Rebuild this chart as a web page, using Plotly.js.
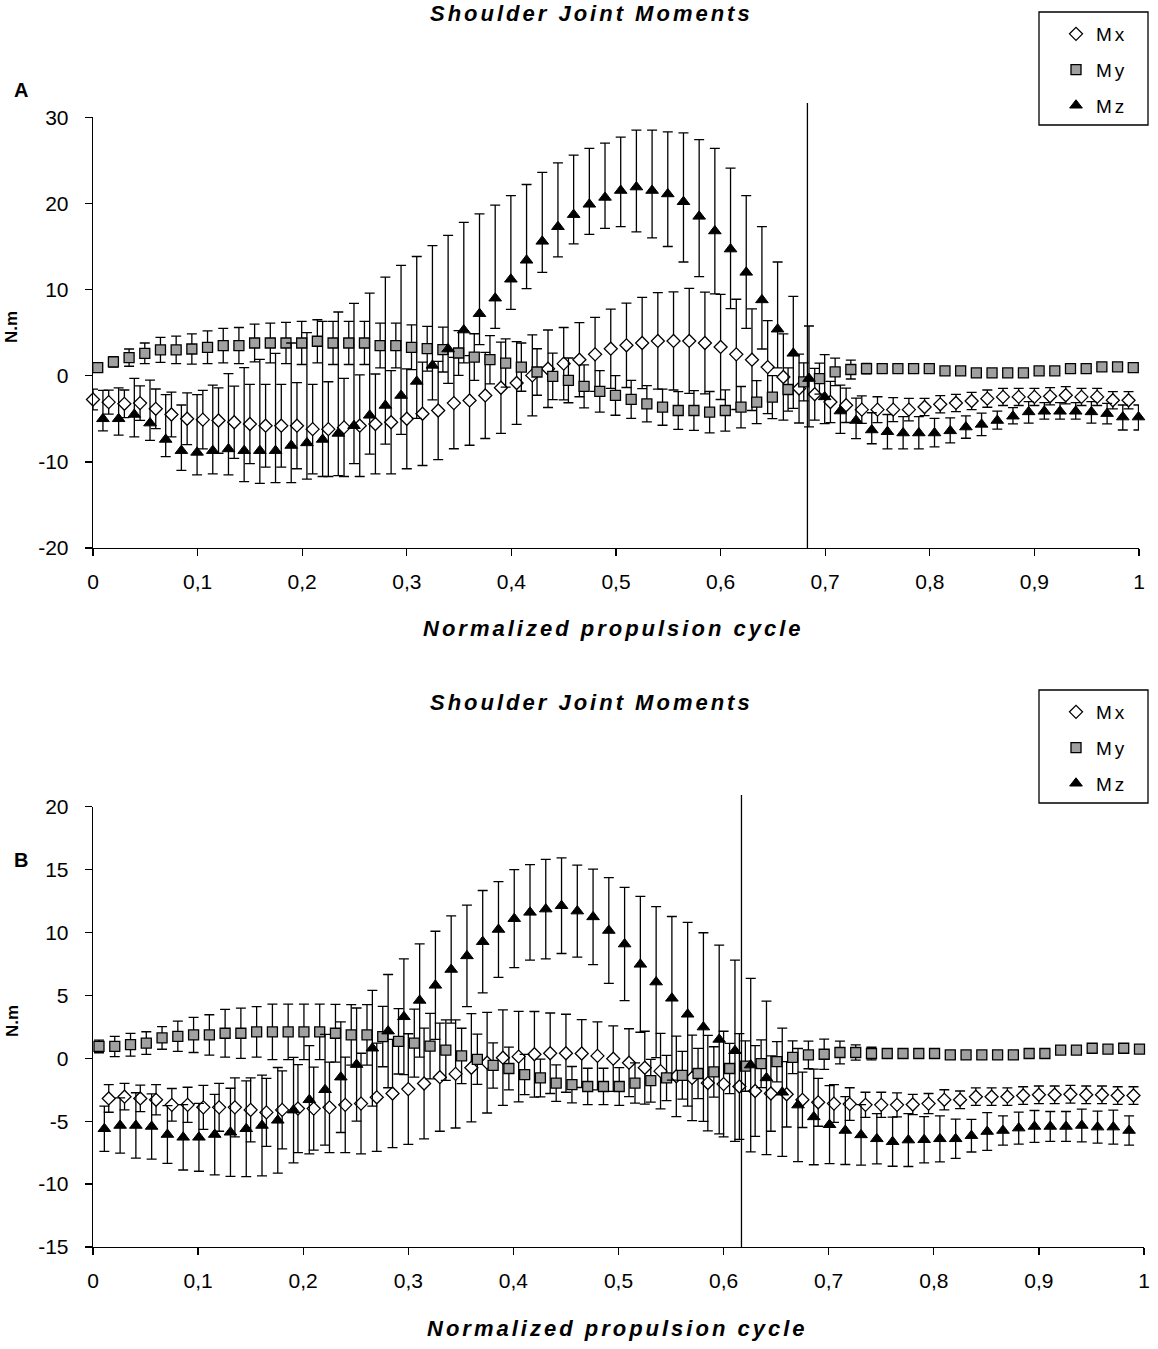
<!DOCTYPE html>
<html>
<head>
<meta charset="utf-8">
<script src="https://cdn.plot.ly/plotly-3.0.1.min.js"></script>
<style>
html,body{margin:0;padding:0;background:#fff;}
#chart{width:1158px;height:1349px;}
</style>
</head>
<body>
<div id="chart"></div>
<script>
// ---------- data ----------
const xTickVals = [0,0.1,0.2,0.3,0.4,0.5,0.6,0.7,0.8,0.9,1];
const xTickText = ['0','0,1','0,2','0,3','0,4','0,5','0,6','0,7','0,8','0,9','1'];
const yTickValsA = [-20,-10,0,10,20,30];
const yTickTextA = ['-20','-10','0','10','20','30'];
const yTickValsB = [-15,-10,-5,0,5,10,15,20];
const yTickTextB = ['-15','-10','-5','0','5','10','15','20'];
const seriesNames = ['Mx','My','Mz'];
const phaseLine = [0.683, 0.617];   // end of propulsion phase, panel A and B

// sampling of the normalized cycle (step 0.015)
const cycleStep = 0.015;

// Panel A
const A_Mx = [-2.76,-3.07,-3.26,-3.18,-3.84,-4.5,-5.0,-5.1,-5.2,-5.4,
  -5.6,-5.8,-5.8,-5.8,-6.2,-6.2,-6.0,-5.8,-5.6,-5.4,
  -5.0,-4.42,-4.04,-3.18,-2.87,-2.29,-1.4,-0.85,0.04,0.81,
  1.4,1.86,2.48,3.14,3.53,3.8,4.04,4.04,4.04,3.8,
  3.34,2.48,1.86,1.0,-0.15,-1.49,-2.15,-3.05,-3.43,-3.94,
  -3.94,-3.94,-3.94,-3.63,-3.32,-3.16,-2.93,-2.66,-2.46,-2.46,
  -2.46,-2.39,-2.27,-2.46,-2.46,-2.85,-2.85];
const A_MxErr = [1.2,1.4,1.6,2.0,2.3,2.6,3.0,3.4,3.8,4.2,
  4.6,4.8,4.8,5.0,5.2,5.5,5.7,5.9,5.8,6.0,
  5.8,6.0,5.7,5.3,5.2,5.0,5.3,4.8,4.7,4.5,
  4.2,4.3,4.3,4.6,4.9,5.3,5.6,5.7,6.1,5.9,
  6.1,6.4,5.9,5.4,5.0,4.0,3.0,2.4,2.0,1.6,
  1.5,1.4,1.3,1.0,1.0,1.0,1.0,1.0,1.0,1.0,
  1.0,1.0,1.0,1.0,1.0,1.0,1.0];
const A_My = [0.93,1.6,2.1,2.6,3.0,3.0,3.1,3.3,3.5,3.5,
  3.8,3.8,3.8,3.8,4.0,3.8,3.8,3.8,3.5,3.5,
  3.3,3.14,3.03,2.64,2.17,1.86,1.47,1.0,0.43,-0.08,
  -0.54,-1.24,-1.82,-2.29,-2.75,-3.26,-3.65,-4.04,-4.04,-4.23,
  -4.04,-3.65,-3.07,-2.48,-1.6,-0.72,-0.33,0.45,0.72,0.83,
  0.83,0.83,0.83,0.83,0.56,0.56,0.33,0.33,0.33,0.33,
  0.56,0.56,0.83,0.83,1.03,1.03,0.95];
const A_MyErr = [0.3,0.6,1.0,1.2,1.45,1.6,1.75,1.9,2.0,2.1,
  2.2,2.3,2.4,2.5,2.5,2.5,2.5,2.5,2.6,2.6,
  2.6,2.6,2.6,2.6,2.7,2.8,2.8,2.8,2.7,2.7,
  2.6,2.5,2.4,2.3,2.2,2.1,2.1,2.2,2.3,2.4,
  2.4,2.4,2.5,2.5,2.5,2.2,1.8,1.6,1.1,0.6,
  0.3,0.3,0.3,0.3,0.3,0.3,0.3,0.3,0.3,0.3,
  0.3,0.3,0.3,0.3,0.3,0.3,0.3];
const A_Mz = [-5.0,-5.0,-4.5,-5.5,-7.4,-8.7,-8.9,-8.7,-8.5,-8.7,
  -8.7,-8.7,-8.1,-7.8,-7.4,-6.7,-5.8,-4.6,-3.45,-2.3,
  -0.66,1.2,3.1,5.3,7.2,9.0,11.2,13.4,15.6,17.3,
  18.7,19.9,20.7,21.5,21.9,21.5,21.1,20.2,18.5,16.8,
  14.7,12.0,8.8,5.4,2.6,-0.33,-2.46,-4.1,-5.2,-6.3,
  -6.5,-6.65,-6.65,-6.65,-6.4,-5.96,-5.65,-5.2,-4.7,-4.2,
  -4.13,-4.13,-4.13,-4.2,-4.4,-4.8,-4.8];
const A_MzErrUp = [3.3,3.6,4.2,5.0,5.2,5.3,6.7,7.6,8.75,9.65,
  10.6,11.3,11.9,12.8,13.7,14.1,14.2,14.2,14.9,15.1,
  14.5,13.9,13.2,12.5,11.6,10.8,9.7,8.8,8.0,7.4,
  6.9,6.5,6.3,6.2,6.6,7.0,7.2,8.0,8.9,9.6,
  9.4,8.9,8.5,7.8,6.6,6.1,4.9,3.0,2.6,2.0,
  2.0,1.9,1.9,1.7,1.5,1.3,1.3,1.1,1.0,1.2,
  1.0,1.0,1.0,1.2,1.2,1.4,1.4];
const A_MzErrDown = [1.4,1.9,2.6,2.0,2.0,2.3,2.6,2.7,3.0,3.6,
  3.8,3.7,4.3,4.2,4.3,4.9,4.4,4.5,4.5,4.5,
  4.3,4.0,4.0,3.8,3.6,3.5,3.5,3.3,3.6,3.5,
  3.4,3.5,3.6,4.2,5.2,5.5,6.1,7.0,7.0,7.3,
  6.9,6.5,5.7,4.5,6.4,5.6,3.1,2.6,2.1,1.6,
  2.0,1.85,1.85,1.6,1.4,1.3,1.3,1.0,0.9,1.3,
  0.9,0.9,0.9,1.3,1.2,1.5,1.5];

// Panel B (Mx starts at the second sample)
const B_Mx = [-3.19,-3.05,-3.19,-3.3,-3.7,-3.7,-3.9,-3.9,-3.9,-4.1,
  -4.3,-4.1,-4.0,-4.0,-3.9,-3.7,-3.6,-3.1,-2.8,-2.45,
  -2.0,-1.5,-1.24,-0.75,-0.35,0.05,0.13,0.32,0.4,0.4,
  0.38,0.19,-0.03,-0.35,-0.75,-1.02,-1.43,-1.56,-1.97,-2.05,
  -2.24,-2.6,-2.8,-2.86,-3.3,-3.5,-3.6,-3.64,-3.7,-3.7,
  -3.7,-3.67,-3.6,-3.3,-3.3,-3.05,-3.05,-3.05,-2.96,-2.9,
  -2.9,-2.86,-2.9,-2.9,-2.96,-2.96];
const B_MxErr = [1.1,1.05,1.05,1.2,1.3,1.4,1.75,1.9,2.35,2.55,
  2.7,3.1,3.5,3.3,3.6,3.8,4.0,4.3,4.3,4.4,
  4.4,4.3,4.3,4.3,4.0,3.8,3.6,3.4,3.2,3.1,
  2.7,2.7,2.6,2.7,2.9,3.0,3.2,3.4,3.8,4.2,
  4.2,3.6,3.0,2.6,2.2,1.9,1.5,1.3,1.0,1.0,
  0.95,0.8,0.8,0.8,0.7,0.7,0.7,0.7,0.7,0.7,
  0.7,0.7,0.7,0.7,0.7,0.7];
const B_My = [0.94,0.94,1.08,1.21,1.62,1.75,1.86,1.86,1.99,1.99,
  2.1,2.1,2.1,2.1,2.1,1.99,1.86,1.86,1.73,1.35,
  1.21,0.97,0.65,0.19,-0.08,-0.57,-0.81,-1.29,-1.56,-1.97,
  -2.1,-2.24,-2.24,-2.24,-1.97,-1.78,-1.56,-1.35,-1.21,-1.08,
  -0.81,-0.62,-0.43,-0.27,0.08,0.27,0.32,0.46,0.46,0.38,
  0.38,0.38,0.38,0.38,0.27,0.27,0.27,0.27,0.27,0.38,
  0.38,0.65,0.65,0.8,0.73,0.8,0.73];
const B_MyErr = [0.5,0.8,0.9,0.9,0.9,1.2,1.4,1.6,1.9,2.0,
  2.0,2.2,2.2,2.2,2.2,2.3,2.4,2.4,2.4,2.6,
  2.7,2.6,2.4,2.2,2.0,1.8,1.7,1.6,1.5,1.45,
  1.45,1.45,1.45,1.5,1.6,1.7,1.8,1.9,2.0,2.0,
  2.0,2.0,1.9,1.6,1.3,1.1,1.2,0.9,0.6,0.5,
  0.3,0.3,0.3,0.3,0.3,0.3,0.3,0.3,0.3,0.3,
  0.3,0.3,0.3,0.3,0.3,0.3,0.3];
const B_Mz = [-5.6,-5.34,-5.34,-5.42,-6.06,-6.28,-6.28,-6.06,-5.88,-5.6,
  -5.34,-4.93,-4.12,-3.3,-2.5,-1.5,-0.5,0.8,2.16,3.3,
  4.6,5.8,7.06,8.14,9.27,10.24,11.1,11.6,11.86,12.13,
  11.7,11.24,10.16,9.08,7.47,6.06,4.77,3.5,2.48,1.5,
  0.6,-0.54,-1.56,-2.7,-3.72,-4.66,-5.28,-5.74,-6.09,-6.4,
  -6.63,-6.5,-6.47,-6.4,-6.4,-6.15,-5.82,-5.74,-5.55,-5.42,
  -5.42,-5.42,-5.34,-5.47,-5.47,-5.74];
const B_MzErr = [1.8,2.2,2.6,2.6,2.3,2.6,2.7,3.2,3.5,3.8,
  4.0,4.2,4.2,4.3,4.4,4.4,4.5,4.6,4.5,4.6,
  4.5,4.3,4.26,4.04,4.07,3.8,3.9,3.8,3.96,3.8,
  3.66,3.8,4.2,4.5,5.4,6.0,6.5,7.3,7.5,7.5,
  7.2,6.9,6.1,5.1,4.5,3.8,3.1,2.7,2.4,2.0,
  1.95,2.1,1.84,1.83,1.56,1.3,1.5,1.16,1.27,1.27,
  1.19,1.19,1.3,1.27,1.35,1.16];

// ---------- helpers ----------
const W = 1158, H = 1349;
const px = v => v / W;
const py = v => 1 - v / H;
const FONT = 'Liberation Sans, Arial, sans-serif';

function cycle(n, firstIndex, shift) {
  return Array.from({length: n}, (_, k) => +((k + firstIndex) * cycleStep + shift).toFixed(4));
}

const markers = {
  Mx: {symbol: 'diamond', size: 10, color: '#ffffff', line: {color: '#000', width: 1.3}},
  My: {symbol: 'square', size: 10, color: '#a0a0a0', line: {color: '#000', width: 1.3}},
  Mz: {symbol: 'triangle-up', size: 11, color: '#000000', line: {color: '#000', width: 1}}
};

const spaced = t => '<span style="letter-spacing:3px">' + t + '</span>';

function trace(name, xs, ys, up, down, xa, ya, leg) {
  return {
    type: 'scatter', mode: 'markers', name: spaced(name),
    x: xs, y: ys, xaxis: xa, yaxis: ya,
    legend: leg, legendgroup: leg + name,
    marker: markers[name], cliponaxis: false,
    error_y: {type: 'data', symmetric: false, array: up, arrayminus: down,
              color: '#000', thickness: 1.3, width: 5},
    hoverinfo: 'x+y'
  };
}

const data = [
  trace(seriesNames[0], cycle(A_Mx.length, 0, 0), A_Mx, A_MxErr, A_MxErr, 'x', 'y', 'legend'),
  trace(seriesNames[1], cycle(A_My.length, 0, 0.0045), A_My, A_MyErr, A_MyErr, 'x', 'y', 'legend'),
  trace(seriesNames[2], cycle(A_Mz.length, 0, 0.0095), A_Mz, A_MzErrUp, A_MzErrDown, 'x', 'y', 'legend'),
  trace(seriesNames[0], cycle(B_Mx.length, 1, 0), B_Mx, B_MxErr, B_MxErr, 'x2', 'y2', 'legend2'),
  trace(seriesNames[1], cycle(B_My.length, 0, 0.0057), B_My, B_MyErr, B_MyErr, 'x2', 'y2', 'legend2'),
  trace(seriesNames[2], cycle(B_Mz.length, 0, 0.0108), B_Mz, B_MzErr, B_MzErr, 'x2', 'y2', 'legend2')
];

function xAxis(domain, anchor) {
  return {
    domain: domain, anchor: anchor, range: [0, 1],
    tickmode: 'array', tickvals: xTickVals, ticktext: xTickText,
    ticks: 'outside', ticklen: 7, tickwidth: 1.3, tickcolor: '#000',
    showline: true, linecolor: '#000', linewidth: 1.3,
    showgrid: false, zeroline: false,
    tickfont: {family: FONT, size: 21, color: '#000'},
    ticklabelstandoff: 7
  };
}
function yAxis(domain, anchor, range, vals, text) {
  return {
    domain: domain, anchor: anchor, range: range,
    tickmode: 'array', tickvals: vals, ticktext: text,
    ticks: 'outside', ticklen: 7, tickwidth: 1.3, tickcolor: '#000',
    showline: true, linecolor: '#000', linewidth: 1.3,
    showgrid: false, zeroline: false,
    tickfont: {family: FONT, size: 21, color: '#000'},
    ticklabelstandoff: 12
  };
}

function label(text, x, y, size, opts) {
  return Object.assign({
    xref: 'paper', yref: 'paper', x: px(x), y: py(y),
    xanchor: 'center', yanchor: 'middle', showarrow: false,
    text: text,
    font: {family: FONT, size: size, color: '#000', weight: 'bold'}
  }, opts || {});
}

const title = 'Shoulder Joint Moments';
const xTitle = 'Normalized propulsion cycle';
const yTitle = 'N.m';
const bi = {family: FONT, size: 22, color: '#000', weight: 'bold', style: 'italic'};

const annotations = [
  label(spaced(title), 591, 13, 22, {font: bi}),
  label(spaced(title), 591, 702, 22, {font: bi}),
  label('A', 21, 90, 20),
  label('B', 21, 860, 20),
  label(spaced(xTitle), 613, 628, 22, {font: bi}),
  label(spaced(xTitle), 617, 1328, 22, {font: bi}),
  label(yTitle, 12, 327, 17, {textangle: -90}),
  label(yTitle, 12, 1021, 17, {textangle: -90})
];

const shapes = [
  {type: 'rect', xref: 'paper', yref: 'paper', x0: px(1039), x1: px(1148), y0: py(125), y1: py(12),
   line: {color: '#000', width: 1.3}, fillcolor: 'rgba(0,0,0,0)'},
  {type: 'rect', xref: 'paper', yref: 'paper', x0: px(1039), x1: px(1148), y0: py(803), y1: py(690),
   line: {color: '#000', width: 1.3}, fillcolor: 'rgba(0,0,0,0)'},
  {type: 'line', xref: 'x', yref: 'paper', x0: phaseLine[0], x1: phaseLine[0], y0: py(548), y1: py(103),
   line: {color: '#000', width: 1.3}},
  {type: 'line', xref: 'x2', yref: 'paper', x0: phaseLine[1], x1: phaseLine[1], y0: py(1247), y1: py(795),
   line: {color: '#000', width: 1.3}}
];

function legendAt(y) {
  return {
    x: px(1056), xanchor: 'left', y: py(y), yanchor: 'top',
    bgcolor: 'rgba(0,0,0,0)', borderwidth: 0,
    font: {family: FONT, size: 19, color: '#000'},
    tracegroupgap: 8, traceorder: 'grouped'
  };
}

const layout = {
  width: W, height: H, autosize: false,
  margin: {l: 0, r: 0, t: 0, b: 0, pad: 0},
  paper_bgcolor: '#fff', plot_bgcolor: '#fff',
  showlegend: true,
  xaxis: xAxis([px(93), px(1139)], 'y'),
  yaxis: yAxis([py(548), py(117.3)], 'x', [-20, 30], yTickValsA, yTickTextA),
  xaxis2: xAxis([px(93), px(1144)], 'y2'),
  yaxis2: yAxis([py(1247), py(806.7)], 'x2', [-15, 20], yTickValsB, yTickTextB),
  legend: legendAt(15),
  legend2: legendAt(693),
  annotations: annotations,
  shapes: shapes
};

Plotly.newPlot('chart', data, layout, {displayModeBar: false, staticPlot: true});
</script>
</body>
</html>
